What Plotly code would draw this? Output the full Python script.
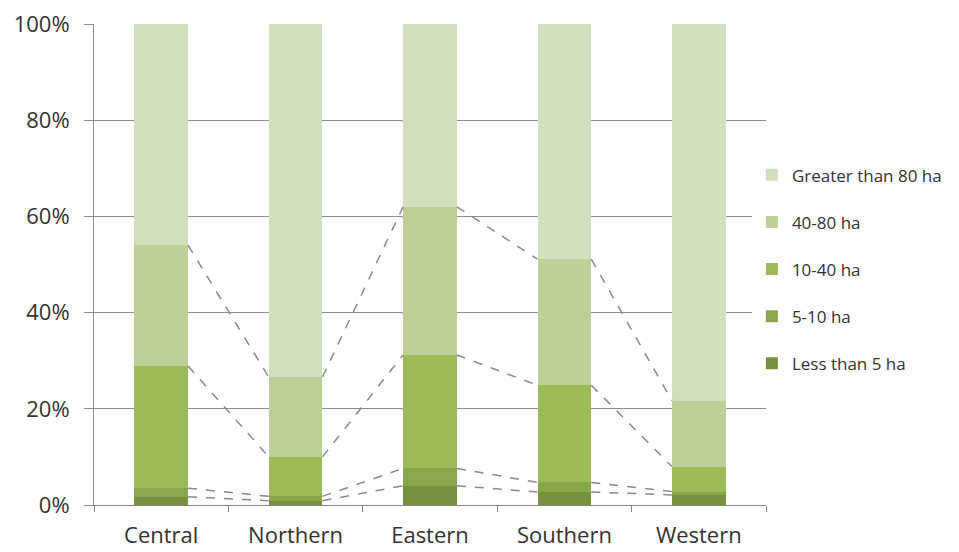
import plotly.graph_objects as go

categories = ["Central", "Northern", "Eastern", "Southern", "Western"]
series_names = ["Less than 5 ha", "5-10 ha", "10-40 ha", "40-80 ha", "Greater than 80 ha"]
# percentage share of each size class per region
less_than_5 = [1.7, 0.9, 4.0, 2.7, 2.1]
five_to_10 = [1.8, 0.9, 3.6, 2.0, 0.7]
ten_to_40 = [25.4, 8.2, 23.6, 20.2, 5.2]
forty_to_80 = [25.1, 16.6, 30.8, 26.2, 13.7]
greater_80 = [46.0, 73.4, 38.0, 48.9, 78.3]
tick_labels = ["0%", "20%", "40%", "60%", "80%", "100%"]

series_values = [less_than_5, five_to_10, ten_to_40, forty_to_80, greater_80]
colors = ["#76923C", "#87A74B", "#9BBB59", "#BCD097", "#D0DFBC"]

bar_width = 0.4
xs = list(range(len(categories)))

fig = go.Figure()
n = len(series_names)
for k, (name, vals, col) in enumerate(zip(series_names, series_values, colors)):
    fig.add_trace(go.Bar(
        x=xs, y=vals, name=name, width=bar_width,
        marker=dict(color=col, line=dict(width=0)),
        legendgroup=name, legendrank=n - k,
    ))

# series lines connecting segment tops
cum = [0.0] * len(categories)
for vals in series_values[:-1]:
    cum = [c + v for c, v in zip(cum, vals)]
    lx, ly = [], []
    for i in range(len(categories) - 1):
        lx += [xs[i] + bar_width / 2, xs[i + 1] - bar_width / 2, None]
        ly += [cum[i], cum[i + 1], None]
    fig.add_trace(go.Scatter(
        x=lx, y=ly, mode="lines", showlegend=False, hoverinfo="skip",
        line=dict(color="#8A8A8A", width=1.5, dash="dash"),
    ))

# invisible trace on overlay axis for category separator ticks
fig.add_trace(go.Scatter(x=[-0.5, 4.5], y=[0, 0], xaxis="x2", mode="markers",
                         marker=dict(opacity=0), showlegend=False, hoverinfo="skip"))

fig.update_layout(
    barmode="stack",
    width=959, height=552,
    margin=dict(l=86, r=201, t=16, b=55, autoexpand=False),
    paper_bgcolor="white", plot_bgcolor="white",
    font=dict(family="Open Sans, DejaVu Sans, sans-serif", color="#333333"),
    xaxis=dict(
        range=[-0.5, 4.5], tickvals=xs, ticktext=categories,
        showgrid=False, ticks="", showline=True, linecolor="#868686", linewidth=1,
        tickfont=dict(size=22, color="#333333"), zeroline=False,
        automargin=False, ticklabelstandoff=11, ticklabeloverflow="allow",
    ),
    xaxis2=dict(
        overlaying="x", range=[-0.5, 4.5], side="bottom",
        tickvals=[-0.5, 0.5, 1.5, 2.5, 3.5, 4.5], showticklabels=False,
        ticks="outside", ticklen=6, tickcolor="#868686", showgrid=False,
        showline=False, zeroline=False, anchor="y", automargin=False,
    ),
    yaxis=dict(
        range=[0, 100], tickvals=[0, 20, 40, 60, 80, 100], ticktext=tick_labels,
        showgrid=True, gridcolor="#8C8C8C", gridwidth=1,
        ticks="outside", ticklen=9, tickcolor="#8C8C8C",
        showline=True, linecolor="#8C8C8C", linewidth=1, zeroline=False,
        tickfont=dict(size=22, color="#333333"),
        automargin=False, ticklabelstandoff=10, ticklabeloverflow="allow",
    ),
    legend=dict(
        traceorder="grouped", x=0.979, xanchor="left", y=0.49, yanchor="middle",
        font=dict(size=17, color="#333333"), tracegroupgap=22,
        itemwidth=30,
    ),
    bargap=0,
)

fig.write_html("out.html")
